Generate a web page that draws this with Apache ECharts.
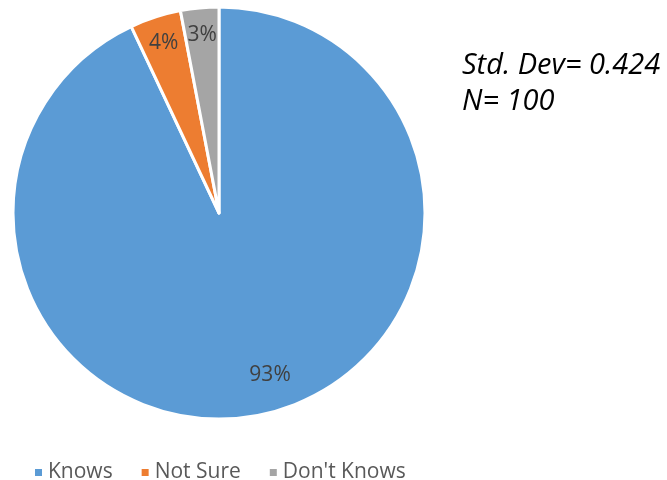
<!DOCTYPE html>
<html>
<head>
<meta charset="utf-8">
<script src="https://cdn.jsdelivr.net/npm/echarts@6/dist/echarts.min.js"></script>
<style>
  html, body { margin: 0; padding: 0; background: #fff; }
  #chart { width: 667px; height: 480px; }
</style>
</head>
<body>
<div id="chart"></div>
<script>
// answers, in percent
const categories = ['Knows', 'Not Sure', "Don't Knows"];
const shares = [93, 4, 3];
const colors = ['#5B9BD5', '#ED7D31', '#A5A5A5'];
const notes = ['Std. Dev= 0.424', 'N= 100'];

const pieData = categories.map((name, i) => ({
    name: name,
    value: shares[i],
    itemStyle: { color: colors[i] }
}));

const chart = echarts.init(document.getElementById('chart'));
chart.setOption({
    animation: false,
    legend: {
        data: categories,
        left: 28,
        top: 457,
        icon: 'rect',
        itemWidth: 9,
        itemHeight: 9,
        itemGap: 27,
        textStyle: { color: '#595959', fontSize: 21, fontFamily: 'Open Sans' }
    },
    graphic: notes.map((t, i) => ({
        type: 'text',
        left: 462,
        top: 51 + i * 36,
        style: {
            text: t,
            fill: '#000',
            font: 'italic 29px "Open Sans"'
        }
    })),
    series: [
        {
            type: 'pie',
            center: [219, 213],
            radius: [0, 206],
            startAngle: 90,
            clockwise: true,
            data: pieData,
            itemStyle: { borderColor: '#fff', borderWidth: 3 },
            label: { show: false },
            labelLine: { show: false },
            emphasis: { disabled: true }
        },
        {
            // label carrier only, so labels sit near the rim like the original
            type: 'pie',
            center: [219, 213],
            radius: [146, 206],
            startAngle: 90,
            clockwise: true,
            silent: true,
            data: pieData.map((d, i) => ({
                name: d.name,
                value: d.value,
                label: i === 0 ? { offset: [12, -13] } : {}
            })),
            itemStyle: { color: 'rgba(0,0,0,0)' },
            label: {
                show: true,
                position: 'inside',
                formatter: '{c}%',
                color: '#404040',
                fontSize: 21,
                fontFamily: 'Open Sans'
            },
            labelLine: { show: false },
            emphasis: { disabled: true }
        }
    ]
});
</script>
</body>
</html>
